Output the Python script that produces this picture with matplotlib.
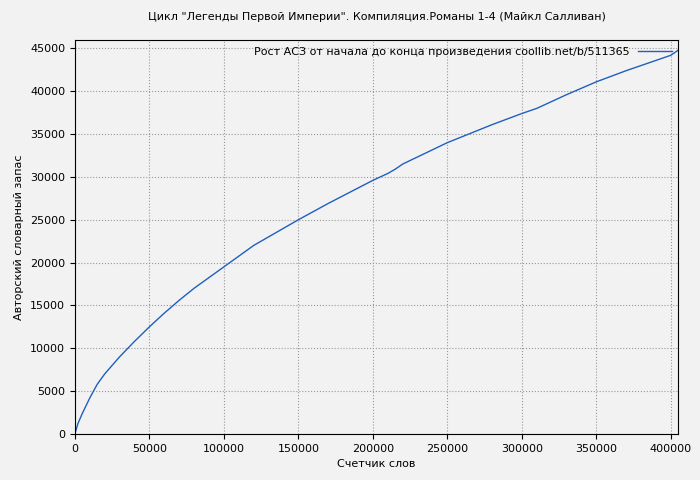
import matplotlib
matplotlib.use("Agg")
import matplotlib.pyplot as plt

words = [0, 2000, 5000, 10000, 15000, 20000, 30000, 40000, 50000, 60000, 70000, 80000,
         100000, 120000, 150000, 170000, 200000, 210000, 215000, 220000, 250000,
         280000, 300000, 310000, 330000, 350000, 370000, 390000, 400000, 405000]
vocab = [0, 1200, 2400, 4200, 5800, 7000, 9000, 10800, 12500, 14100, 15600, 17000,
         19500, 22000, 25000, 26900, 29600, 30400, 30900, 31500, 34000,
         36100, 37400, 38000, 39600, 41100, 42400, 43600, 44200, 44800]

plt.rcParams['font.size'] = 8
fig = plt.figure(figsize=(7, 4.8), dpi=100, facecolor='#f2f2f2')
ax = fig.add_axes([0.107, 0.096, 0.862, 0.821])
ax.set_facecolor('#f2f2f2')
ax.plot(words, vocab, color='#1f5fbf', lw=1,
        label='Рост АСЗ от начала до конца произведения coollib.net/b/511365')
ax.set_xlim(0, 405000)
ax.set_ylim(0, 46000)
ax.set_xticks(range(0, 400001, 50000))
ax.set_yticks(range(0, 45001, 5000))
ax.grid(True, color='#999999', linestyle=':', lw=0.8)
ax.set_xlabel('Счетчик слов')
ax.set_ylabel('Авторский словарный запас')
ax.set_title('Цикл "Легенды Первой Империи". Компиляция.Романы 1-4 (Майкл Салливан)', fontsize=8, pad=14)
ax.legend(loc='upper right', frameon=False, markerfirst=False, handlelength=3, borderaxespad=0.2)
fig.savefig('out.png', dpi=100, facecolor=fig.get_facecolor())
